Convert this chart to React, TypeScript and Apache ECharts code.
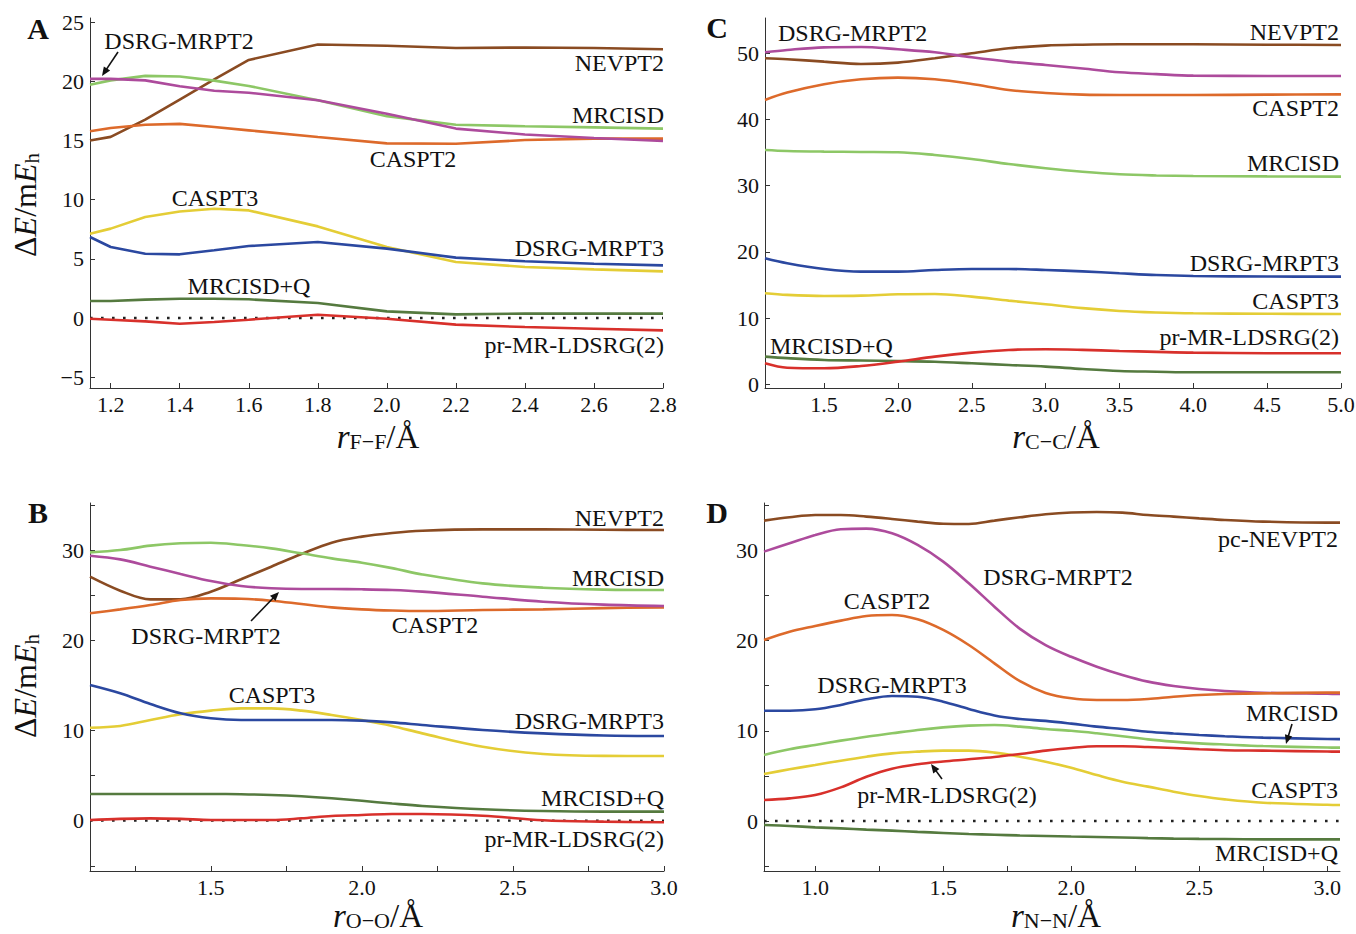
import React, { useEffect, useRef } from "react";
import * as echarts from "echarts";

const FONT = "'Liberation Serif', 'Times New Roman', Times, serif";

// ---------------- Panel A : r(F-F) ----------------
const A_R = [1.14, 1.2, 1.3, 1.4, 1.5, 1.6, 1.8, 2.0, 2.2, 2.4, 2.6, 2.8];
const A_NEVPT2 = [15.0, 15.3, 16.75, 18.45, 20.15, 21.8, 23.1, 23.0, 22.8, 22.85, 22.8, 22.7];
const A_MRCISD = [19.7, 20.07, 20.45, 20.4, 20.05, 19.6, 18.4, 17.05, 16.33, 16.2, 16.1, 16.0];
const A_DSRGPT2 = [20.2, 20.2, 20.07, 19.57, 19.2, 19.03, 18.4, 17.25, 16.0, 15.5, 15.2, 14.95];
const A_CASPT2 = [15.77, 16.05, 16.33, 16.4, 16.13, 15.85, 15.29, 14.75, 14.72, 15.03, 15.15, 15.15];
const A_CASPT3 = [7.12, 7.55, 8.53, 9.0, 9.23, 9.09, 7.74, 6.0, 4.73, 4.31, 4.11, 3.94];
const A_DSRGPT3 = [6.84, 6.0, 5.43, 5.38, 5.72, 6.08, 6.42, 5.86, 5.1, 4.79, 4.59, 4.45];
const A_MRCISDQ = [1.44, 1.44, 1.55, 1.63, 1.63, 1.58, 1.27, 0.56, 0.31, 0.37, 0.37, 0.37];
const A_LDSRG = [-0.06, -0.14, -0.28, -0.48, -0.34, -0.14, 0.28, -0.06, -0.56, -0.76, -0.9, -1.04];
const A_XTICKS = [1.2, 1.4, 1.6, 1.8, 2.0, 2.2, 2.4, 2.6, 2.8];
const A_YTICKS = [-5, 0, 5, 10, 15, 20, 25];

// ---------------- Panel B : r(O-O) ----------------
const B_R = [1.1, 1.2, 1.3, 1.4, 1.5, 1.6, 1.7, 1.8, 1.9, 2.0, 2.1, 2.2, 2.4, 2.6, 2.8, 3.0];
const B_NEVPT2 = [27.05, 25.5, 24.54, 24.54, 25.39, 26.76, 28.16, 29.56, 30.82, 31.49, 31.9, 32.15, 32.3, 32.3, 32.25, 32.22];
const B_MRCISD = [29.75, 30.0, 30.49, 30.75, 30.82, 30.56, 30.19, 29.64, 29.08, 28.6, 28.0, 27.3, 26.31, 25.83, 25.62, 25.57];
const B_DSRGPT2 = [29.38, 28.97, 28.16, 27.35, 26.57, 26.02, 25.76, 25.68, 25.68, 25.65, 25.57, 25.39, 24.83, 24.28, 23.95, 23.8];
const B_CASPT2 = [22.99, 23.43, 23.91, 24.46, 24.65, 24.61, 24.39, 24.02, 23.65, 23.43, 23.3, 23.24, 23.36, 23.43, 23.56, 23.65];
const B_DSRGPT3 = [15.04, 14.12, 12.93, 11.9, 11.35, 11.16, 11.16, 11.16, 11.16, 11.09, 10.9, 10.61, 10.05, 9.68, 9.45, 9.39];
const B_CASPT3 = [10.31, 10.5, 11.16, 11.79, 12.2, 12.45, 12.45, 12.2, 11.72, 11.16, 10.5, 9.68, 8.2, 7.39, 7.18, 7.17];
const B_MRCISDQ = [2.96, 2.96, 2.96, 2.96, 2.96, 2.93, 2.85, 2.7, 2.48, 2.2, 1.9, 1.63, 1.26, 1.07, 1.0, 1.0];
const B_LDSRG = [0.07, 0.2, 0.26, 0.2, 0.07, 0.07, 0.07, 0.26, 0.52, 0.63, 0.74, 0.74, 0.55, 0.05, -0.11, -0.18];
const B_XTICKS = [1.25, 1.5, 1.75, 2.0, 2.25, 2.5, 2.75, 3.0];
const B_XLABELS = [1.5, 2.0, 2.5, 3.0];
const B_YTICKS = [-5, 0, 5, 10, 15, 20, 25, 30, 35];
const B_YLABELS = [0, 10, 20, 30];

// ---------------- Panel C : r(C-C) ----------------
const C_R = [1.1, 1.25, 1.5, 1.75, 2.0, 2.25, 2.5, 2.75, 3.0, 3.25, 3.5, 3.75, 4.0, 4.5, 5.0];
const C_NEVPT2 = [49.25, 49.1, 48.74, 48.39, 48.59, 49.25, 50.0, 50.76, 51.16, 51.3, 51.36, 51.36, 51.36, 51.3, 51.26];
const C_DSRGPT2 = [50.15, 50.5, 50.9, 50.96, 50.6, 50.15, 49.4, 48.74, 48.24, 47.7, 47.13, 46.85, 46.63, 46.58, 46.58];
const C_CASPT2 = [42.95, 44.06, 45.32, 46.07, 46.32, 46.07, 45.37, 44.46, 44.0, 43.75, 43.7, 43.7, 43.7, 43.75, 43.8];
const C_MRCISD = [35.4, 35.25, 35.15, 35.1, 35.05, 34.64, 34.04, 33.28, 32.63, 32.1, 31.72, 31.55, 31.47, 31.4, 31.37];
const C_DSRGPT3 = [19.03, 18.28, 17.42, 17.02, 17.02, 17.27, 17.42, 17.42, 17.27, 17.05, 16.77, 16.5, 16.36, 16.28, 16.26];
const C_CASPT3 = [13.75, 13.5, 13.34, 13.39, 13.6, 13.65, 13.24, 12.64, 12.08, 11.5, 11.08, 10.85, 10.72, 10.65, 10.62];
const C_MRCISDQ = [4.18, 3.95, 3.68, 3.6, 3.52, 3.4, 3.17, 2.92, 2.67, 2.3, 2.01, 1.9, 1.81, 1.81, 1.81];
const C_LDSRG = [3.17, 2.5, 2.42, 2.77, 3.42, 4.18, 4.78, 5.19, 5.29, 5.2, 5.04, 4.9, 4.78, 4.7, 4.68];
const C_XTICKS = [1.5, 2.0, 2.5, 3.0, 3.5, 4.0, 4.5, 5.0];
const C_YTICKS = [0, 10, 20, 30, 40, 50];

// ---------------- Panel D : r(N-N) ----------------
const D_R = [0.8, 0.9, 1.0, 1.1, 1.2, 1.3, 1.4, 1.5, 1.6, 1.7, 1.8, 1.9, 2.0, 2.1, 2.2, 2.3, 2.4, 2.5, 2.6, 2.75, 3.0, 3.05];
const D_NEVPT2 = [33.3, 33.67, 33.92, 33.92, 33.74, 33.48, 33.19, 32.95, 32.93, 33.3, 33.67, 34.0, 34.2, 34.26, 34.18, 33.92, 33.74, 33.55, 33.37, 33.19, 33.07, 33.07];
const D_DSRGPT2 = [29.86, 30.78, 31.71, 32.34, 32.41, 31.89, 30.6, 28.75, 26.35, 23.76, 21.3, 19.5, 18.2, 17.11, 16.19, 15.45, 14.97, 14.63, 14.41, 14.22, 14.1, 14.08];
const D_CASPT2 = [20.07, 20.99, 21.62, 22.21, 22.73, 22.84, 22.36, 21.18, 19.51, 17.48, 15.5, 14.2, 13.6, 13.42, 13.41, 13.53, 13.78, 13.97, 14.08, 14.15, 14.23, 14.23];
const D_DSRGPT3 = [12.23, 12.23, 12.38, 12.86, 13.49, 13.86, 13.78, 13.23, 12.42, 11.7, 11.3, 11.1, 10.8, 10.46, 10.2, 9.9, 9.7, 9.53, 9.4, 9.24, 9.09, 9.08];
const D_MRCISD = [7.32, 7.95, 8.43, 8.91, 9.35, 9.72, 10.09, 10.38, 10.57, 10.64, 10.46, 10.2, 10.0, 9.72, 9.4, 9.05, 8.8, 8.61, 8.48, 8.31, 8.15, 8.13];
const D_CASPT3 = [5.21, 5.73, 6.21, 6.69, 7.13, 7.5, 7.69, 7.8, 7.8, 7.58, 7.13, 6.58, 5.9, 5.1, 4.36, 3.81, 3.25, 2.77, 2.4, 2.03, 1.8, 1.77];
const D_LDSRG = [2.33, 2.51, 2.88, 3.73, 4.91, 5.8, 6.3, 6.6, 6.84, 7.1, 7.43, 7.8, 8.1, 8.28, 8.28, 8.2, 8.1, 7.95, 7.85, 7.8, 7.7, 7.69];
const D_MRCISDQ = [-0.44, -0.55, -0.7, -0.82, -0.95, -1.07, -1.2, -1.32, -1.44, -1.52, -1.6, -1.66, -1.72, -1.77, -1.82, -1.9, -1.95, -1.98, -2.0, -2.03, -2.03, -2.03];
const D_XTICKS = [1.0, 1.25, 1.5, 1.75, 2.0, 2.25, 2.5, 2.75, 3.0];
const D_XLABELS = [1.0, 1.5, 2.0, 2.5, 3.0];
const D_YTICKS = [-5, 0, 5, 10, 15, 20, 25, 30, 35];
const D_YLABELS = [0, 10, 20, 30];

const COLORS: Record<string, string> = {
  NEVPT2: "#8a4b22",
  MRCISD: "#8dc766",
  DSRGPT2: "#ad4b9c",
  CASPT2: "#dd6a2b",
  CASPT3: "#e4cd36",
  DSRGPT3: "#2b48a0",
  MRCISDQ: "#557a3f",
  LDSRG: "#d8302b",
};

type Panel = {
  grid: any;
  xr: [number, number];
  yr: [number, number];
  xs: number[];
  zero: boolean;
  smooth: number | boolean;
  xTicks: number[];
  xLabels: number[];
  yTicks: number[];
  yLabels: number[];
  lines: [string, string, number[]][];
};

const PANELS: Panel[] = [
  {
    grid: { left: 90, top: 18, width: 573, height: 370 },
    xr: [1.14, 2.8], yr: [-5.91, 25.34], xs: A_R, zero: true, smooth: false,
    xTicks: A_XTICKS, xLabels: A_XTICKS, yTicks: A_YTICKS, yLabels: A_YTICKS,
    lines: [
      ["NEVPT2", "NEVPT2", A_NEVPT2], ["CASPT2", "CASPT2", A_CASPT2], ["MRCISD", "MRCISD", A_MRCISD],
      ["DSRG-MRPT2", "DSRGPT2", A_DSRGPT2], ["CASPT3", "CASPT3", A_CASPT3], ["DSRG-MRPT3", "DSRGPT3", A_DSRGPT3],
      ["MRCISD+Q", "MRCISDQ", A_MRCISDQ], ["pr-MR-LDSRG(2)", "LDSRG", A_LDSRG],
    ],
  },
  {
    grid: { left: 90, top: 503, width: 574, height: 368 },
    xr: [1.1, 3.0], yr: [-5.58, 35.22], xs: B_R, zero: true, smooth: 0.35,
    xTicks: B_XTICKS, xLabels: B_XLABELS, yTicks: B_YTICKS, yLabels: B_YLABELS,
    lines: [
      ["NEVPT2", "NEVPT2", B_NEVPT2], ["CASPT2", "CASPT2", B_CASPT2], ["MRCISD", "MRCISD", B_MRCISD],
      ["DSRG-MRPT2", "DSRGPT2", B_DSRGPT2], ["CASPT3", "CASPT3", B_CASPT3], ["DSRG-MRPT3", "DSRGPT3", B_DSRGPT3],
      ["MRCISD+Q", "MRCISDQ", B_MRCISDQ], ["pr-MR-LDSRG(2)", "LDSRG", B_LDSRG],
    ],
  },
  {
    grid: { left: 765, top: 18, width: 576, height: 370 },
    xr: [1.1, 5.0], yr: [-0.56, 55.33], xs: C_R, zero: false, smooth: 0.35,
    xTicks: C_XTICKS, xLabels: C_XTICKS, yTicks: C_YTICKS, yLabels: C_YTICKS,
    lines: [
      ["NEVPT2", "NEVPT2", C_NEVPT2], ["CASPT2", "CASPT2", C_CASPT2], ["DSRG-MRPT2", "DSRGPT2", C_DSRGPT2],
      ["MRCISD", "MRCISD", C_MRCISD], ["CASPT3", "CASPT3", C_CASPT3], ["DSRG-MRPT3", "DSRGPT3", C_DSRGPT3],
      ["MRCISD+Q", "MRCISDQ", C_MRCISDQ], ["pr-MR-LDSRG(2)", "LDSRG", C_LDSRG],
    ],
  },
  {
    grid: { left: 764, top: 503, width: 576, height: 368 },
    xr: [0.8, 3.05], yr: [-5.54, 35.25], xs: D_R, zero: true, smooth: 0.35,
    xTicks: D_XTICKS, xLabels: D_XLABELS, yTicks: D_YTICKS, yLabels: D_YLABELS,
    lines: [
      ["pc-NEVPT2", "NEVPT2", D_NEVPT2], ["DSRG-MRPT2", "DSRGPT2", D_DSRGPT2], ["CASPT2", "CASPT2", D_CASPT2],
      ["MRCISD", "MRCISD", D_MRCISD], ["CASPT3", "CASPT3", D_CASPT3], ["DSRG-MRPT3", "DSRGPT3", D_DSRGPT3],
      ["pr-MR-LDSRG(2)", "LDSRG", D_LDSRG], ["MRCISD+Q", "MRCISDQ", D_MRCISDQ],
    ],
  },
];

// annotation labels: [text, x, y, align]
const LABELS: [string, number, number, string][] = [
  ["DSRG-MRPT2", 179, 41, "center"],
  ["NEVPT2", 664, 63, "right"],
  ["MRCISD", 664, 115, "right"],
  ["CASPT2", 413, 159, "center"],
  ["CASPT3", 215, 198, "center"],
  ["DSRG-MRPT3", 664, 248, "right"],
  ["MRCISD+Q", 249, 286, "center"],
  ["pr-MR-LDSRG(2)", 664, 345, "right"],

  ["DSRG-MRPT2", 778, 33, "left"],
  ["NEVPT2", 1339, 32, "right"],
  ["CASPT2", 1339, 108, "right"],
  ["MRCISD", 1339, 163, "right"],
  ["DSRG-MRPT3", 1339, 263, "right"],
  ["CASPT3", 1339, 301, "right"],
  ["pr-MR-LDSRG(2)", 1339, 337, "right"],
  ["MRCISD+Q", 770, 346, "left"],

  ["NEVPT2", 664, 518, "right"],
  ["MRCISD", 664, 578, "right"],
  ["CASPT2", 435, 625, "center"],
  ["DSRG-MRPT2", 206, 636, "center"],
  ["CASPT3", 272, 695, "center"],
  ["DSRG-MRPT3", 664, 721, "right"],
  ["MRCISD+Q", 664, 798, "right"],
  ["pr-MR-LDSRG(2)", 664, 839, "right"],

  ["pc-NEVPT2", 1338, 539, "right"],
  ["DSRG-MRPT2", 1058, 577, "center"],
  ["CASPT2", 887, 601, "center"],
  ["DSRG-MRPT3", 892, 685, "center"],
  ["MRCISD", 1338, 713, "right"],
  ["CASPT3", 1338, 790, "right"],
  ["pr-MR-LDSRG(2)", 947, 795, "center"],
  ["MRCISD+Q", 1338, 853, "right"],
];

// arrows: [tailX, tailY, headX, headY]
const ARROWS: number[][] = [
  [118, 52, 102, 76],
  [251, 621, 279, 592],
  [1292, 724, 1286, 744],
  [942, 779, 931, 764],
];

const LETTERS: [string, number, number][] = [
  ["A", 38, 28],
  ["B", 38, 512],
  ["C", 717, 27],
  ["D", 717, 512],
];

const X_TITLES: [string, number, number][] = [
  ["F\u2212F", 378, 437],
  ["O\u2212O", 378, 916],
  ["C\u2212C", 1056, 437],
  ["N\u2212N", 1056, 916],
];
const Y_TITLES: [number, number][] = [
  [25, 205],
  [25, 686],
];

const fmtY = (v: number) => (v < 0 ? "\u2212" + Math.abs(v) : String(v));
const fmtX = (v: number) => v.toFixed(1);

function buildOption() {
  const grid: any[] = [];
  const xAxis: any[] = [];
  const yAxis: any[] = [];
  const series: any[] = [];
  const axisLine = { show: true, onZero: false, lineStyle: { color: "#333", width: 1 } };

  PANELS.forEach((p, i) => {
    grid.push({ ...p.grid, outerBoundsMode: "none", containLabel: false });
    xAxis.push({
      type: "value", gridIndex: i, min: p.xr[0], max: p.xr[1],
      axisLine,
      axisTick: { show: true, inside: true, length: 5, customValues: p.xTicks, lineStyle: { color: "#333", width: 1 } },
      axisLabel: { show: true, customValues: p.xLabels, formatter: fmtX, fontFamily: FONT, fontSize: 22, color: "#111", margin: 5 },
      splitLine: { show: false },
    });
    yAxis.push({
      type: "value", gridIndex: i, min: p.yr[0], max: p.yr[1],
      axisLine,
      axisTick: { show: true, inside: true, length: 5, customValues: p.yTicks, lineStyle: { color: "#333", width: 1 } },
      axisLabel: { show: true, customValues: p.yLabels, formatter: fmtY, fontFamily: FONT, fontSize: 22, color: "#111", margin: 6 },
      splitLine: { show: false },
    });
    if (p.zero) {
      series.push({
        type: "line", name: "zero", xAxisIndex: i, yAxisIndex: i, silent: true, z: 1,
        showSymbol: false, symbol: "none",
        data: p.xs.map((x) => [x, 0]),
        lineStyle: { color: "#222", width: 2.4, type: [2.6, 8.4], cap: "butt" },
      });
    }
    p.lines.forEach(([name, key, vals]) => {
      series.push({
        type: "line", name, xAxisIndex: i, yAxisIndex: i, z: 2,
        showSymbol: false, symbol: "none", smooth: p.smooth,
        data: p.xs.map((x, k) => [x, vals[k]]),
        lineStyle: { color: COLORS[key], width: 2.6 },
        itemStyle: { color: COLORS[key] },
      });
    });
  });

  const graphic: any[] = [];
  LABELS.forEach(([t, x, y, align]) => {
    graphic.push({
      type: "text", x, y, silent: true, z: 10,
      style: { text: t, fontFamily: FONT, fontSize: 24, fill: "#111", align, verticalAlign: "middle" },
    });
  });
  ARROWS.forEach(([tx, ty, hx, hy]) => {
    const dx = hx - tx, dy = hy - ty;
    const L = Math.sqrt(dx * dx + dy * dy);
    const ux = dx / L, uy = dy / L;
    const hl = 9, hw = 3.8;
    const bx = hx - ux * hl, by = hy - uy * hl;
    graphic.push({
      type: "line", silent: true, z: 10,
      shape: { x1: tx, y1: ty, x2: bx + ux * 2, y2: by + uy * 2 },
      style: { stroke: "#111", lineWidth: 1.6 },
    });
    graphic.push({
      type: "polygon", silent: true, z: 10,
      shape: { points: [[hx, hy], [bx - uy * hw, by + ux * hw], [bx + uy * hw, by - ux * hw]] },
      style: { fill: "#111" },
    });
  });
  LETTERS.forEach(([t, x, y]) => {
    graphic.push({
      type: "text", x, y, silent: true, z: 10,
      style: { text: t, fontFamily: FONT, fontSize: 30, fontWeight: "bold", fill: "#111", align: "center", verticalAlign: "middle" },
    });
  });
  X_TITLES.forEach(([sub, x, y]) => {
    graphic.push({
      type: "text", x, y, silent: true, z: 10,
      style: {
        text: "{i|r}{s|" + sub + "}{n|/\u00c5}",
        align: "center", verticalAlign: "middle", fill: "#111",
        rich: {
          i: { fontFamily: FONT, fontSize: 33, fontStyle: "italic", lineHeight: 30, fill: "#111" },
          s: { fontFamily: FONT, fontSize: 22, lineHeight: 12, verticalAlign: "bottom", fill: "#111" },
          n: { fontFamily: FONT, fontSize: 33, lineHeight: 30, fill: "#111" },
        },
      },
    });
  });
  Y_TITLES.forEach(([x, y]) => {
    graphic.push({
      type: "text", x, y, rotation: Math.PI / 2, silent: true, z: 10,
      style: {
        text: "{n|\u0394}{i|E}{n|/m}{i|E}{s|h}",
        align: "center", verticalAlign: "middle", fill: "#111",
        rich: {
          n: { fontFamily: FONT, fontSize: 32, lineHeight: 34, fill: "#111" },
          i: { fontFamily: FONT, fontSize: 32, fontStyle: "italic", lineHeight: 34, fill: "#111" },
          s: { fontFamily: FONT, fontSize: 21, lineHeight: 16, verticalAlign: "bottom", fill: "#111" },
        },
      },
    });
  });

  return {
    animation: false,
    backgroundColor: "#ffffff",
    grid,
    xAxis,
    yAxis,
    series,
    graphic,
  };
}

export default function App() {
  const ref = useRef<HTMLDivElement>(null);
  useEffect(() => {
    if (!ref.current) return;
    const chart = echarts.init(ref.current, null, { renderer: "svg" });
    chart.setOption(buildOption() as any);
    return () => chart.dispose();
  }, []);
  return (
    <div
      ref={ref}
      style={{ position: "absolute", left: 0, top: 0, width: 1356, height: 934, background: "#fff" }}
    />
  );
}
